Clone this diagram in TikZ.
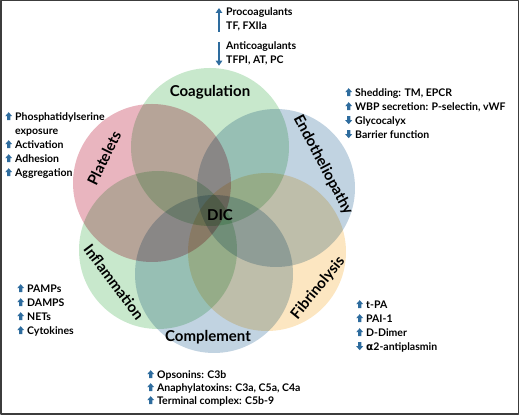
\documentclass[tikz,border=0pt]{standalone}
\usepackage{fontspec}
\setmainfont{Lato}
\newfontfamily\grk{DejaVu Sans}
\usetikzlibrary{positioning,arrows.meta}

\definecolor{pinkc}{RGB}{233,181,191}
\definecolor{bluec}{RGB}{193,211,225}
\definecolor{greenc}{RGB}{200,232,204}
\definecolor{yellc}{RGB}{252,230,193}
\definecolor{arrowblue}{RGB}{46,108,158}
\definecolor{framec}{RGB}{60,60,60}

% small block arrows in front of the list entries
\newcommand{\arrUp}{\tikz[baseline=0pt]\fill[arrowblue] (1.8pt,0pt) -- (1.8pt,4pt) -- (0pt,4pt) -- (3.5pt,8pt) -- (7pt,4pt) -- (5.2pt,4pt) -- (5.2pt,0pt) -- cycle;\hspace{3pt}}
\newcommand{\arrDn}{\tikz[baseline=0pt]\fill[arrowblue] (1.8pt,8pt) -- (1.8pt,4pt) -- (0pt,4pt) -- (3.5pt,0pt) -- (7pt,4pt) -- (5.2pt,4pt) -- (5.2pt,8pt) -- cycle;\hspace{3pt}}

\begin{document}
\begin{tikzpicture}[x=1pt, y=1pt, line cap=round, line join=round]
  % styles
  \tikzset{
    setlab/.style={font=\fontsize{15}{18}\selectfont\bfseries, inner sep=0pt},
    lst/.style={font=\fontsize{10.5}{14}\selectfont\bfseries, align=left, inner sep=0pt, anchor=north west},
    tallarr/.style={arrowblue, line width=2.2pt, line cap=butt, -{Triangle[width=6.5pt,length=5pt]}},
    frame/.style={framec, line width=1.6pt}
  }

  \useasboundingbox (0,0) rectangle (520,417);
  \draw[frame] (1,3) rectangle (518.5,416.5);

  % ----- circle centres -----
  \coordinate (Coag)  at (210,270);
  \coordinate (Endo)  at (276,229);
  \coordinate (Fib)   at (267,165);
  \coordinate (Compl) at (214,143);
  \coordinate (Infl)  at (158,167);
  \coordinate (Plat)  at (152,234);
  \def\rad{79}

  % ----- the six sets, multiplied -----
  \begin{scope}[blend group=multiply]
    \foreach \c/\col in {Coag/greenc, Endo/bluec, Fib/yellc, Compl/bluec, Infl/greenc, Plat/pinkc}
      \fill[\col] (\c) circle[radius=\rad];
  \end{scope}

  % set names
  \node[setlab]             (coaglab)  at (210,325) {Coagulation};
  \node[setlab, rotate=-62] (endolab)  at (323,252) {Endotheliopathy};
  \node[setlab, rotate=51]  (fiblab)   at (318,129) {Fibrinolysis};
  \node[setlab]             (compllab) at (208,80)  {Complement};
  \node[setlab, rotate=-53] (infllab)  at (114,135) {Inflammation};
  \node[setlab, rotate=64]  (platlab)  at (104,259) {Platelets};
  \node[setlab]             (dic)      at (220,202) {DIC};

  % ----- lists -----
  \node[lst] (pro)  at (226,409) {Procoagulants\\TF, FXIIa};
  \node[lst] (anti) at (226,375) {Anticoagulants\\TFPI, AT, PC};
  \draw[tallarr] ([xshift=-7pt]pro.south west) -- ([xshift=-7pt]pro.north west);
  \draw[tallarr] ([xshift=-7pt]anti.north west) -- ([xshift=-7pt]anti.south west);

  \node[lst] (endolist) at (345,329) {\arrUp Shedding: TM, EPCR\\
    \arrUp WBP secretion: P-selectin, vWF\\
    \arrDn Glycocalyx\\
    \arrDn Barrier function};

  \node[lst] (platlist) at (5,305) {\arrUp Phosphatidylserine\\
    \hspace*{10pt}exposure\\
    \arrUp Activation\\
    \arrUp Adhesion\\
    \arrUp Aggregation};

  \node[lst] (infllist) at (17,133) {\arrUp PAMPs\\
    \arrUp DAMPS\\
    \arrUp NETs\\
    \arrUp Cytokines};

  \node[lst] (fiblist) at (356,117) {\arrUp t-PA\\
    \arrUp PAI-1\\
    \arrUp D-Dimer\\
    \arrDn {\grk α}2-antiplasmin};

  \node[lst, font=\fontsize{10.5}{13}\selectfont\bfseries] (compllist) at (147,47) {\arrUp Opsonins: C3b\\
    \arrUp Anaphylatoxins: C3a, C5a, C4a\\
    \arrUp Terminal complex: C5b-9};
\end{tikzpicture}
\end{document}
